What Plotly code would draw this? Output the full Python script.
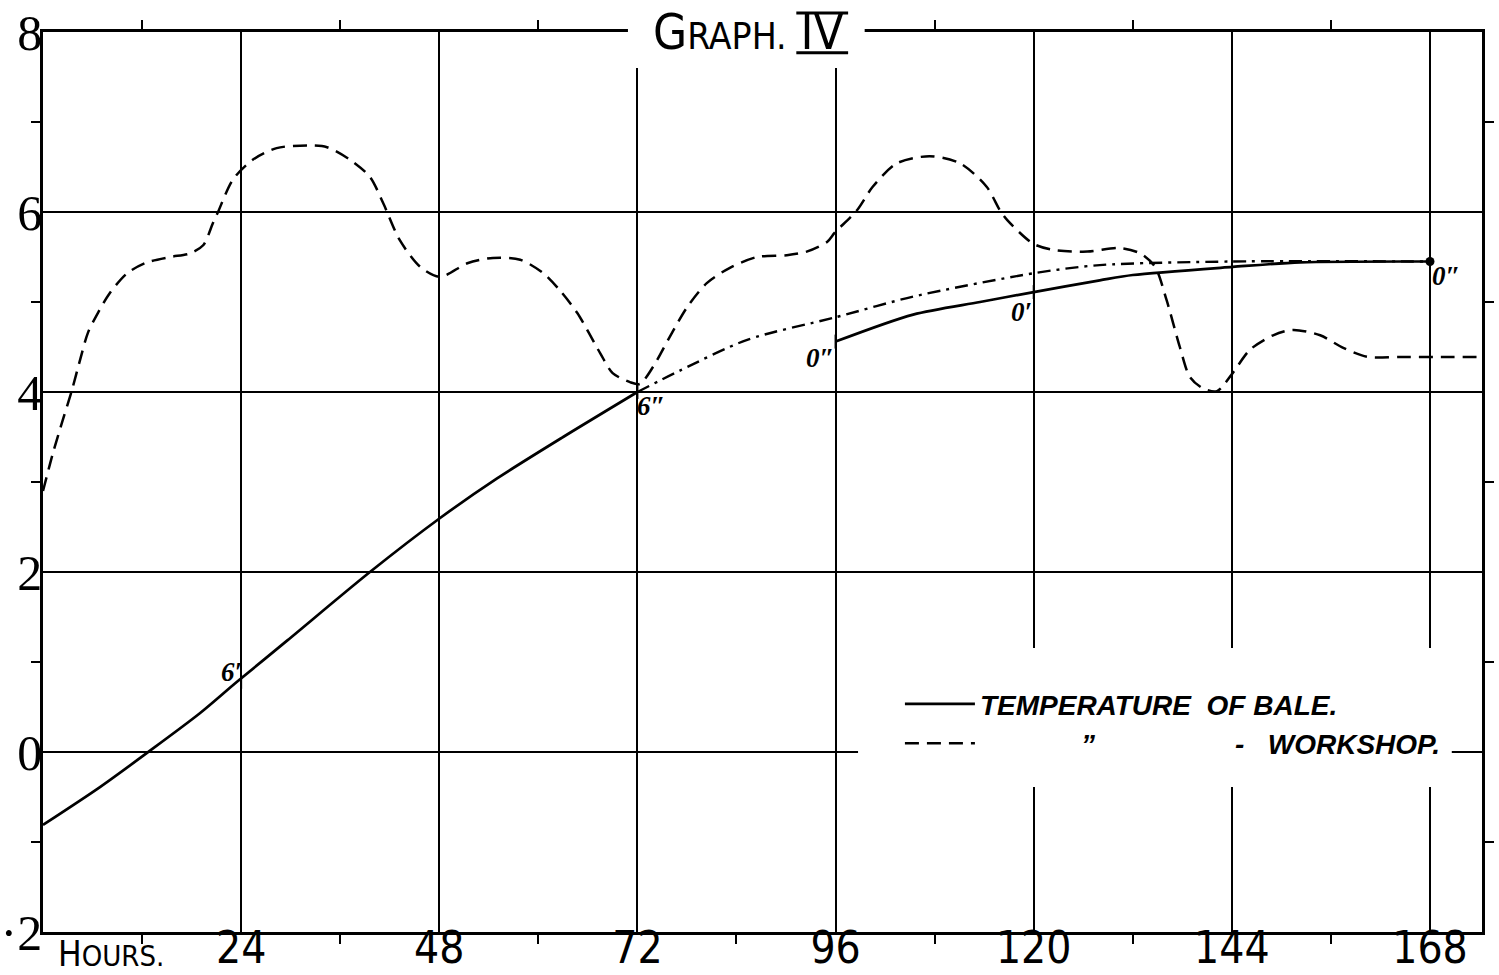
import plotly.graph_objects as go

# ---------------- data ----------------
workshop_hours = [0, 1.2, 2.4, 3.5, 4.5, 5.45, 6.66, 8.1, 10.2, 12.6, 15.4, 17.8, 19.4, 20.6,
                  21.2, 23.0, 25.4, 28.3, 32.0, 34.4, 37.2, 39.6, 41.2, 43.2, 45.7, 48.1,
                  51.4, 54.5, 57.8, 60.6, 62.6, 64.7, 67.5, 69.0, 71.1, 72.3, 73.9, 75.9,
                  78.0, 80.4, 83.2, 86.5, 90.1, 92.5, 95.0, 95.9, 98.6, 100.5, 103.4, 107.4,
                  111.1, 114.3, 115.9, 116.8, 119.9, 122.3, 126.5, 130.4, 132.9, 134.7, 136.1,
                  137.7, 138.9, 140.5, 142.2, 144.1, 146.2, 149.0, 151.4, 154.7, 157.5, 160.4,
                  164.4, 168.4, 174.3]
workshop_temp = [2.9, 3.32, 3.69, 4.02, 4.36, 4.66, 4.88, 5.1, 5.32, 5.44, 5.5, 5.54, 5.63, 5.88,
                 6.0, 6.36, 6.58, 6.71, 6.74, 6.72, 6.58, 6.39, 6.1, 5.69, 5.39, 5.28,
                 5.43, 5.49, 5.47, 5.32, 5.13, 4.88, 4.43, 4.21, 4.11, 4.09, 4.28, 4.61,
                 4.94, 5.21, 5.38, 5.5, 5.52, 5.56, 5.67, 5.77, 6.02, 6.28, 6.54, 6.62,
                 6.54, 6.28, 6.02, 5.91, 5.65, 5.58, 5.56, 5.6, 5.54, 5.39, 5.02,
                 4.5, 4.17, 4.04, 4.01, 4.21, 4.47, 4.63, 4.69, 4.63, 4.49, 4.39,
                 4.39, 4.39, 4.39]

bale_hours_a = [0, 6.9, 12.6, 19.0, 23.5, 29.6, 39.6, 48.1, 55.0, 63.0, 72.0]
bale_temp_a = [-0.81, -0.39, -0.01, 0.43, 0.78, 1.24, 2.0, 2.6, 3.04, 3.5, 4.0]

bale_hours_b = [96.0, 105.4, 113.5, 120.0, 128.0, 132.0, 144.1, 152.3, 168.0]
bale_temp_b = [4.56, 4.86, 5.0, 5.11, 5.24, 5.3, 5.39, 5.44, 5.45]

est_hours = [72.0, 77.2, 85.3, 96.0, 105.4, 120.0, 128.0, 144.1, 168.0]
est_temp = [4.0, 4.24, 4.58, 4.83, 5.06, 5.32, 5.41, 5.45, 5.45]

mark_hours = [24, 72, 96, 120, 168]
mark_temp = [0.78, 4.0, 4.56, 5.11, 5.45]
mark_text = ["6′", "6″", "0″", "0′", "0″"]

x_tickvals = [24, 48, 72, 96, 120, 144, 168]
x_ticktext = ["24", "48", "72", "96", "120", "144", "168"]
x_minor = [12, 36, 60, 84, 108, 132, 156]
y_tickvals = [-2, 0, 2, 4, 6, 8]
y_ticktext = ["·2", "0", "2", "4", "6", "8"]
y_minor = [-1, 1, 3, 5, 7]

# ---------------- figure ----------------
NARROW = "Liberation Sans Narrow, DejaVu Sans Condensed, Liberation Sans, sans-serif"
fig = go.Figure()

fig.add_trace(go.Scatter(
    x=bale_hours_a, y=bale_temp_a, mode="lines",
    line=dict(color="black", width=2.7, shape="spline", smoothing=0.8),
    name="TEMPERATURE  OF BALE.", legendgroup="bale", legendrank=1))
fig.add_trace(go.Scatter(
    x=bale_hours_b, y=bale_temp_b, mode="lines",
    line=dict(color="black", width=2.7, shape="spline", smoothing=0.8),
    legendgroup="bale", showlegend=False))
fig.add_trace(go.Scatter(
    x=est_hours, y=est_temp, mode="lines",
    line=dict(color="black", width=2.4, dash="13px,6px,3px,6px", shape="spline", smoothing=0.8),
    showlegend=False))
fig.add_trace(go.Scatter(
    x=workshop_hours, y=workshop_temp, mode="lines",
    line=dict(color="black", width=2.5, dash="14px,8px", shape="spline", smoothing=0.8),
    name="\u00a0" * 13 + "\u201d" + "\u00a0" * 18 + "-" + "\u00a0" * 3 + "WORKSHOP.",
    legendrank=2))
fig.add_trace(go.Scatter(
    x=mark_hours, y=mark_temp, mode="markers",
    marker=dict(symbol="line-ns", size=10, line=dict(color="black", width=2)),
    showlegend=False))
fig.add_trace(go.Scatter(
    x=[bale_hours_b[-1]], y=[bale_temp_b[-1]], mode="markers",
    marker=dict(symbol="circle", size=9, color="black"),
    showlegend=False))

offsets = [(-10, 10), (14, -14), (-16, -16), (-12, -20), (16, -14)]
for hx, ty, txt, (dx, dy) in zip(mark_hours, mark_temp, mark_text, offsets):
    fig.add_annotation(x=hx, y=ty, text=txt, showarrow=False, xshift=dx, yshift=dy,
                       font=dict(family="Liberation Serif, serif", size=27, color="black",
                                 weight="bold", style="italic"))

# white masks (title and legend areas interrupt the ruling)
fig.add_shape(type="rect", xref="paper", yref="paper", x0=0.4065, x1=0.571, y0=0.96, y1=1.04,
              fillcolor="white", line=dict(width=0), layer="above")
fig.add_shape(type="rect", xref="paper", yref="paper", x0=0.5664, x1=0.979, y0=0.161, y1=0.3156,
              fillcolor="white", line=dict(width=0), layer="above")

# title (Roman numeral with bars above and below)
fig.add_annotation(
    xref="paper", yref="paper", x=0.49, y=1.0, xanchor="center", yanchor="middle",
    text='G<span style="font-size:37px">RAPH.</span> IV',
    showarrow=False, font=dict(family=NARROW, size=49, color="black"))
for yb in (1.021, 0.977):
    fig.add_shape(type="line", xref="paper", yref="paper", x0=0.5235, x1=0.5595, y0=yb, y1=yb,
                  line=dict(color="black", width=3), layer="above")

# "HOURS." label
fig.add_annotation(
    xref="paper", yref="paper", x=0.047, y=-0.024, xanchor="center", yanchor="middle",
    text='H<span style="font-size:29px">OURS.</span>', showarrow=False,
    font=dict(family=NARROW, size=35, color="black"))

fig.update_xaxes(
    range=[0, 174.3], tickmode="array", tickvals=x_tickvals, ticktext=x_ticktext,
    showgrid=True, gridcolor="black", gridwidth=2, zeroline=False, automargin=False,
    showline=True, linecolor="black", linewidth=2.5, mirror="allticks", ticks="",
    ticklabeloverflow="allow", ticklabelstandoff=-25,
    minor=dict(tickmode="array", tickvals=x_minor, ticks="outside", ticklen=9,
               tickwidth=2, tickcolor="black", showgrid=False),
    tickfont=dict(family=NARROW, size=44, color="black"))
fig.update_yaxes(
    range=[-2, 8], tickmode="array", tickvals=y_tickvals, ticktext=y_ticktext,
    showgrid=True, gridcolor="black", gridwidth=2, zeroline=False, automargin=False,
    showline=True, linecolor="black", linewidth=2.5, mirror="allticks", ticks="",
    ticklabeloverflow="allow", ticklabelstandoff=-12,
    minor=dict(tickmode="array", tickvals=y_minor, ticks="outside", ticklen=9,
               tickwidth=2, tickcolor="black", showgrid=False),
    tickfont=dict(family="Liberation Serif, serif", size=50, color="black"))

fig.update_layout(
    width=1499, height=975,
    margin=dict(l=43, r=17, t=32, b=43, autoexpand=False),
    paper_bgcolor="white", plot_bgcolor="white",
    showlegend=True,
    legend=dict(x=0.5955, y=0.281, xanchor="left", yanchor="top", bgcolor="rgba(0,0,0,0)",
                itemwidth=70, traceorder="normal",
                font=dict(family="Liberation Sans, sans-serif", size=28, color="black",
                          weight="bold", style="italic")),
)

fig.write_html("out.html", config={"displayModeBar": False},
               post_script="document.body.style.margin='0';document.body.style.overflow='hidden';")
